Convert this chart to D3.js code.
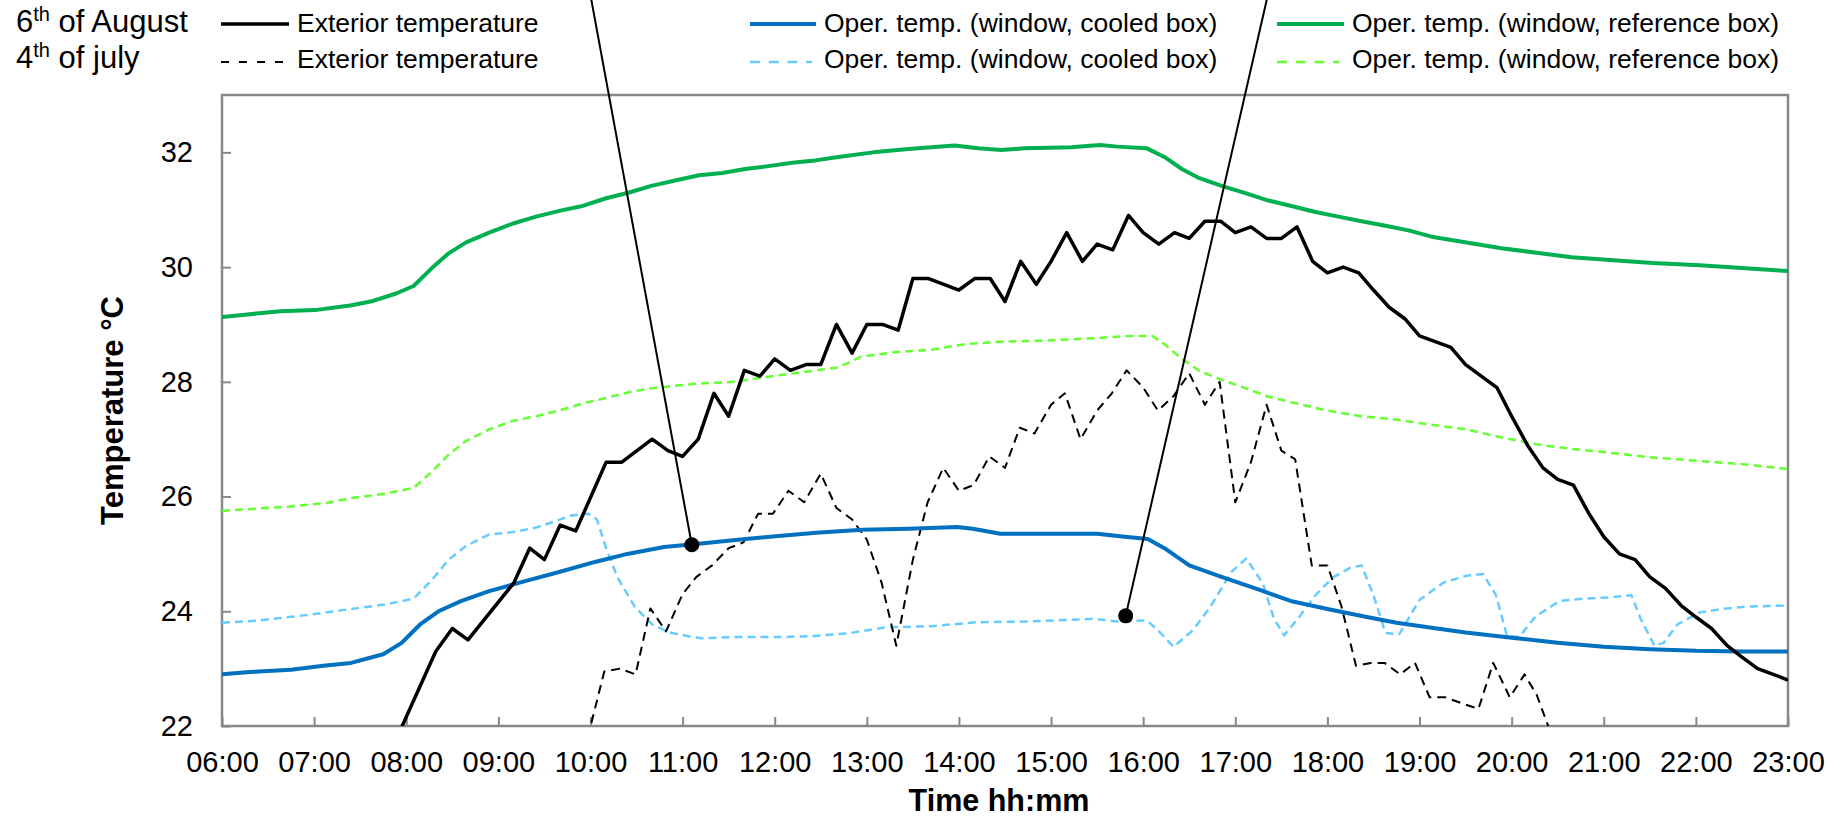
<!DOCTYPE html>
<html>
<head>
<meta charset="utf-8">
<script src="https://cdn.jsdelivr.net/npm/d3@7"></script>
<style>
  html, body { margin: 0; padding: 0; background: #fff; }
  svg text { font-family: "Liberation Sans", Arial, sans-serif; fill: #000; }
</style>
</head>
<body>
<svg id="chart" width="1826" height="820"></svg>
<script>
// data (time in decimal hours, temperature in °C)

const hourTicks = d3.range(6, 24);
const tempTicks = [22, 24, 26, 28, 30, 32];

const dayLabels = ["6", "4"];
const dayNames = [" of August", " of july"];

// exterior temperature, 6th of August
const extAugust = [[7.9,21.8],[8.32,23.3],[8.5,23.7],[8.67,23.5],[9.17,24.5],[9.34,25.1],[9.5,24.9],[9.67,25.5],[9.84,25.4],[10.17,26.6],[10.34,26.6],[10.67,27.0],[10.84,26.8],[11.0,26.7],[11.17,27.0],[11.34,27.8],[11.5,27.4],[11.67,28.2],[11.84,28.1],[12.0,28.4],[12.17,28.2],[12.34,28.3],[12.5,28.3],[12.67,29.0],[12.84,28.5],[13.0,29.0],[13.17,29.0],[13.34,28.9],[13.5,29.8],[13.67,29.8],[14.0,29.6],[14.17,29.8],[14.34,29.8],[14.5,29.4],[14.67,30.1],[14.84,29.7],[15.0,30.1],[15.17,30.6],[15.34,30.1],[15.5,30.4],[15.67,30.3],[15.84,30.9],[16.0,30.6],[16.17,30.4],[16.34,30.6],[16.5,30.5],[16.67,30.8],[16.84,30.8],[17.0,30.6],[17.17,30.7],[17.34,30.5],[17.5,30.5],[17.67,30.7],[17.84,30.1],[18.0,29.9],[18.17,30.0],[18.34,29.9],[18.5,29.6],[18.67,29.3],[18.84,29.1],[19.0,28.8],[19.17,28.7],[19.34,28.6],[19.5,28.3],[19.67,28.1],[19.84,27.9],[20.0,27.4],[20.17,26.9],[20.34,26.5],[20.5,26.3],[20.67,26.2],[20.84,25.7],[21.0,25.3],[21.17,25.0],[21.34,24.9],[21.5,24.6],[21.67,24.4],[21.84,24.1],[22.0,23.9],[22.17,23.7],[22.34,23.4],[22.5,23.2],[22.67,23.0],[22.84,22.9],[23.0,22.8]];

// exterior temperature, 4th of july
const extJuly = [[9.97,21.8],[10.15,22.95],[10.32,23.0],[10.49,22.9],[10.65,24.05],[10.82,23.65],[11.0,24.3],[11.15,24.6],[11.32,24.8],[11.5,25.1],[11.66,25.2],[11.82,25.7],[11.98,25.7],[12.15,26.1],[12.32,25.9],[12.5,26.4],[12.67,25.8],[12.84,25.6],[13.0,25.25],[13.16,24.5],[13.32,23.4],[13.5,24.9],[13.66,25.9],[13.83,26.5],[14.0,26.1],[14.16,26.2],[14.33,26.7],[14.5,26.5],[14.66,27.2],[14.82,27.1],[15.0,27.6],[15.15,27.8],[15.32,27.0],[15.5,27.5],[15.66,27.8],[15.82,28.2],[16.0,27.9],[16.16,27.5],[16.33,27.75],[16.5,28.15],[16.67,27.6],[16.83,28.0],[17.0,25.9],[17.17,26.6],[17.34,27.6],[17.5,26.8],[17.65,26.65],[17.83,24.8],[18.0,24.8],[18.15,24.1],[18.31,23.05],[18.47,23.1],[18.62,23.1],[18.79,22.9],[18.95,23.1],[19.11,22.5],[19.28,22.5],[19.45,22.4],[19.64,22.3],[19.8,23.1],[19.98,22.5],[20.14,22.9],[20.27,22.55],[20.42,21.9]];

// operative temperature, cooled box
const coolAugust = [[6.0,22.9],[6.3,22.94],[6.75,22.98],[7.1,23.05],[7.4,23.1],[7.75,23.25],[7.95,23.45],[8.15,23.77],[8.35,24.0],[8.6,24.18],[8.9,24.35],[9.3,24.53],[9.65,24.68],[10.05,24.86],[10.4,25.0],[10.8,25.12],[11.2,25.18],[11.55,25.24],[11.95,25.3],[12.45,25.37],[12.95,25.42],[13.45,25.44],[13.98,25.47],[14.15,25.44],[14.45,25.35],[14.95,25.35],[15.5,25.35],[15.8,25.3],[16.05,25.26],[16.25,25.08],[16.5,24.8],[16.85,24.6],[17.25,24.38],[17.6,24.18],[18.0,24.04],[18.4,23.91],[18.75,23.8],[19.15,23.71],[19.5,23.63],[20.0,23.54],[20.5,23.45],[21.0,23.38],[21.5,23.34],[22.0,23.31],[22.5,23.3],[23.0,23.3]];

const coolJuly = [[6.0,23.8],[6.4,23.84],[6.9,23.93],[7.4,24.04],[7.77,24.12],[8.08,24.22],[8.27,24.53],[8.46,24.9],[8.65,25.14],[8.9,25.34],[9.16,25.38],[9.41,25.46],[9.6,25.56],[9.79,25.67],[9.98,25.7],[10.07,25.6],[10.17,25.1],[10.29,24.6],[10.48,24.08],[10.67,23.77],[10.86,23.63],[11.05,23.57],[11.2,23.53],[11.56,23.55],[12.06,23.55],[12.44,23.57],[12.82,23.62],[13.2,23.72],[13.7,23.74],[14.2,23.81],[14.7,23.82],[15.22,23.85],[15.47,23.87],[15.72,23.82],[16.04,23.84],[16.16,23.67],[16.33,23.38],[16.54,23.67],[16.73,24.08],[16.96,24.69],[17.12,24.92],[17.3,24.48],[17.42,23.87],[17.53,23.58],[17.68,23.87],[17.87,24.28],[18.06,24.59],[18.25,24.76],[18.37,24.8],[18.5,24.28],[18.63,23.62],[18.78,23.6],[19.0,24.2],[19.26,24.5],[19.51,24.62],[19.69,24.65],[19.83,24.28],[19.95,23.57],[20.08,23.55],[20.26,23.91],[20.52,24.18],[20.77,24.22],[21.03,24.24],[21.3,24.28],[21.4,23.87],[21.55,23.4],[21.65,23.45],[21.8,23.77],[22.04,23.98],[22.29,24.04],[22.54,24.08],[23.0,24.1]];

// operative temperature, reference box
const refAugust = [[6.0,29.13],[6.25,29.17],[6.63,29.23],[7.01,29.25],[7.39,29.33],[7.64,29.41],[7.89,29.54],[8.08,29.67],[8.27,29.97],[8.46,30.24],[8.65,30.43],[8.9,30.6],[9.16,30.76],[9.41,30.88],[9.66,30.98],[9.9,31.06],[10.17,31.2],[10.42,31.3],[10.67,31.42],[10.92,31.51],[11.18,31.6],[11.43,31.64],[11.68,31.71],[11.93,31.76],[12.19,31.82],[12.44,31.86],[12.69,31.92],[13.07,32.0],[13.45,32.06],[13.95,32.12],[14.21,32.07],[14.46,32.04],[14.71,32.07],[15.22,32.09],[15.53,32.13],[15.72,32.1],[16.04,32.07],[16.23,31.92],[16.42,31.71],[16.61,31.55],[16.86,31.41],[17.11,31.29],[17.36,31.16],[17.62,31.06],[17.87,30.96],[18.12,30.88],[18.37,30.8],[18.63,30.72],[18.88,30.64],[19.13,30.53],[19.51,30.43],[19.89,30.33],[20.27,30.25],[20.65,30.17],[21.03,30.13],[21.53,30.07],[22.04,30.03],[22.54,29.98],[23.0,29.93]];

const refJuly = [[6.0,25.75],[6.38,25.79],[6.76,25.83],[7.14,25.89],[7.39,25.97],[7.77,26.05],[8.08,26.15],[8.27,26.42],[8.46,26.73],[8.65,26.97],[8.9,27.17],[9.16,27.32],[9.41,27.4],[9.66,27.5],[9.91,27.62],[10.17,27.72],[10.42,27.82],[10.67,27.89],[10.92,27.93],[11.18,27.97],[11.56,28.0],[11.93,28.09],[12.31,28.17],[12.69,28.25],[12.94,28.44],[13.32,28.52],[13.7,28.56],[14.08,28.66],[14.46,28.7],[14.96,28.72],[15.47,28.76],[15.85,28.8],[16.1,28.8],[16.23,28.66],[16.42,28.4],[16.61,28.19],[16.86,28.03],[17.11,27.89],[17.36,27.74],[17.62,27.64],[17.99,27.5],[18.37,27.4],[18.75,27.34],[19.13,27.25],[19.51,27.17],[19.89,27.03],[20.27,26.91],[20.65,26.83],[21.03,26.77],[21.53,26.68],[22.04,26.62],[22.54,26.56],[23.0,26.48]];

// callout lines: [start, end dot]
const callouts = [
  [[9.97, 35], [11.1, 25.16]],
  [[17.39, 35], [15.81, 23.92]]
];

const seriesNames = ["Exterior temperature", "Oper. temp. (window, cooled box)", "Oper. temp. (window, reference box)"];

// ----------------------------------------------------------

const svg = d3.select("#chart");

const plotLeft = 222, plotRight = 1788, plotTop = 95, plotBottom = 726;

const x = d3.scaleLinear().domain([6, 23]).range([plotLeft, plotRight]);
const y = d3.scaleLinear().domain([22, 33]).range([plotBottom, plotTop]);

const axisGrey = "#888888";

svg.append("clipPath").attr("id", "plotClip")
   .append("rect")
   .attr("x", plotLeft).attr("y", plotTop)
   .attr("width", plotRight - plotLeft).attr("height", plotBottom - plotTop);

// axes
const gY = svg.append("g")
              .attr("transform", `translate(${plotLeft},0)`)
              .call(d3.axisLeft(y).tickValues(tempTicks).tickSize(-9).tickPadding(29).tickFormat(d => d));

const gX = svg.append("g")
              .attr("transform", `translate(0,${plotBottom})`)
              .call(d3.axisBottom(x).tickValues(hourTicks).tickSize(-9).tickPadding(25)
                      .tickFormat(h => String(h).padStart(2, "0") + ":00"));

[gX, gY].forEach(g => {
  g.select(".domain").remove();
  g.selectAll(".tick line").attr("stroke", axisGrey).attr("stroke-width", 2);
  g.selectAll(".tick text").style("font-size", "29px").attr("fill", "#000");
});

svg.append("rect")
   .attr("x", plotLeft).attr("y", plotTop)
   .attr("width", plotRight - plotLeft).attr("height", plotBottom - plotTop)
   .attr("fill", "none").attr("stroke", axisGrey).attr("stroke-width", 2.5);

// axis titles
svg.append("text")
   .attr("transform", `translate(123,${(plotTop + plotBottom) / 2}) rotate(-90)`)
   .attr("text-anchor", "middle")
   .style("font-size", "31px").style("font-weight", "bold")
   .text("Temperature °C");

svg.append("text")
   .attr("x", 999).attr("y", 811)
   .attr("text-anchor", "middle")
   .style("font-size", "30.5px").style("font-weight", "bold")
   .text("Time hh:mm");

// series
const line = d3.line().x(d => x(d[0])).y(d => y(d[1]));

const series = [
  { data: refJuly,    color: "#66FF33", width: 2.5, dash: "8,5" },
  { data: coolJuly,   color: "#66CCFF", width: 2.5, dash: "8,5" },
  { data: extJuly,    color: "#000000", width: 2,   dash: "9,6" },
  { data: refAugust,  color: "#00B050", width: 4,   dash: null },
  { data: coolAugust, color: "#0070C0", width: 4,   dash: null },
  { data: extAugust,  color: "#000000", width: 3.5, dash: null }
];

const gLines = svg.append("g").attr("clip-path", "url(#plotClip)");

gLines.selectAll("path")
      .data(series)
      .enter()
      .append("path")
      .attr("d", d => line(d.data))
      .attr("fill", "none")
      .attr("stroke", d => d.color)
      .attr("stroke-width", d => d.width)
      .attr("stroke-dasharray", d => d.dash)
      .attr("stroke-linejoin", "round");

// callouts
svg.selectAll(".callout")
   .data(callouts)
   .enter()
   .append("line")
   .attr("class", "callout")
   .attr("x1", d => x(d[0][0])).attr("y1", d => y(d[0][1]))
   .attr("x2", d => x(d[1][0])).attr("y2", d => y(d[1][1]))
   .attr("stroke", "#000").attr("stroke-width", 2);

svg.selectAll(".dot")
   .data(callouts)
   .enter()
   .append("circle")
   .attr("class", "dot")
   .attr("cx", d => x(d[1][0])).attr("cy", d => y(d[1][1]))
   .attr("r", 7.5).attr("fill", "#000");

// legend
const legendRows = [24, 62];
const legendBase = [32, 68];
const legendCols = [{ x1: 221, x2: 289, tx: 297 }, { x1: 750, x2: 816, tx: 824 }, { x1: 1277, x2: 1344, tx: 1352 }];
const legendColors = [["#000000", "#000000"], ["#0070C0", "#66CCFF"], ["#00B050", "#66FF33"]];
const legendWidths = [[3.5, 2], [4, 2.5], [4, 2.5]];
const legendDash = [["8,10", "10,8.7", "10,8.7"]];

dayLabels.forEach((lab, r) => {
  const t = svg.append("text").attr("x", 16).attr("y", legendBase[r]).style("font-size", "31px");
  t.append("tspan").text(lab);
  t.append("tspan").attr("dy", -11).style("font-size", "20px").text("th");
  t.append("tspan").attr("dy", 11).text(dayNames[r]);

  legendCols.forEach((c, i) => {
    svg.append("line")
       .attr("x1", c.x1).attr("x2", r === 0 ? c.x2 : c.x1 + 62)
       .attr("y1", legendRows[r]).attr("y2", legendRows[r])
       .attr("stroke", legendColors[i][r])
       .attr("stroke-width", legendWidths[i][r])
       .attr("stroke-dasharray", r === 0 ? null : legendDash[0][i]);
    svg.append("text")
       .attr("x", c.tx).attr("y", legendBase[r])
       .style("font-size", "26.5px")
       .text(seriesNames[i]);
  });
});
</script>
</body>
</html>
